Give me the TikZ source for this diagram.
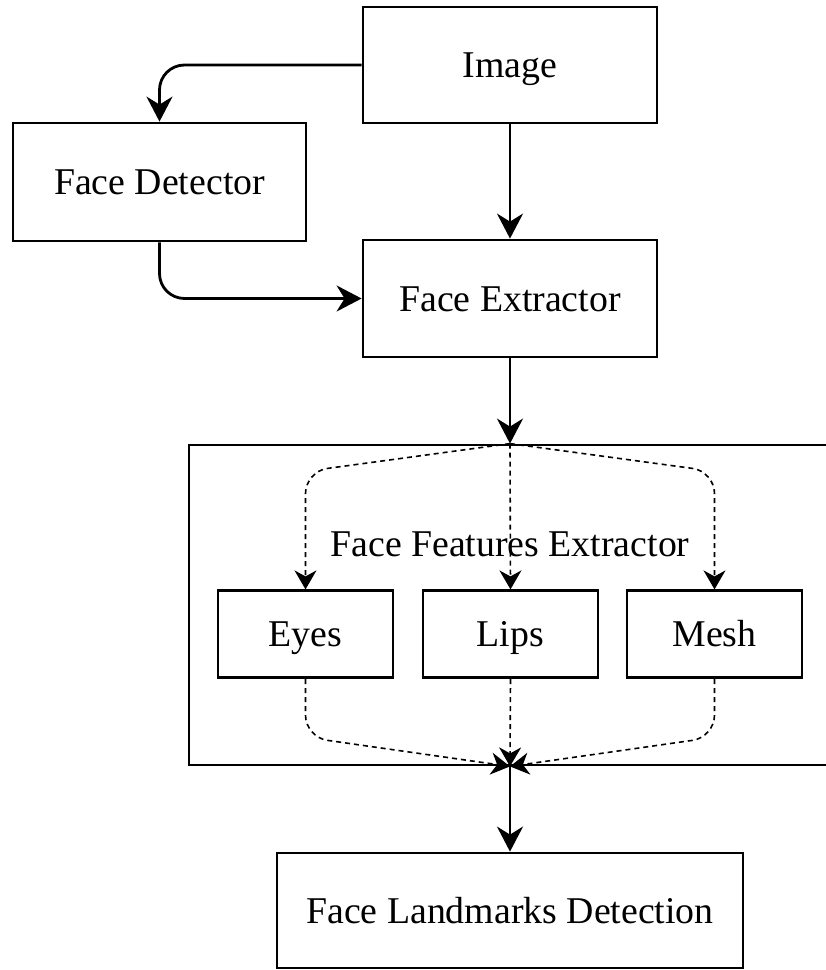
\documentclass[tikz,border=0pt]{standalone}
\usepackage{fontspec}
\setmainfont{Liberation Serif}
\usetikzlibrary{arrows.meta}
\tikzset{
  box/.style={draw, line width=2.8bp, inner sep=0pt, text height=25bp, text depth=0pt,
    font=\fontsize{37.8bp}{40bp}\selectfont, fill=white},
  lbl/.style={inner sep=0pt, text height=25bp, text depth=0pt, font=\fontsize{37.8bp}{40bp}\selectfont},
  solidarrow/.style={line width=2.8bp, -{Stealth[length=25bp,width=26bp,inset=8bp]}},
  dasharrow/.style={line width=1.6bp, dash pattern=on 5bp off 4bp,
    -{Stealth[length=19bp,width=22bp,inset=6bp]}}
}
\begin{document}
\begin{tikzpicture}[x=1bp,y=-1bp]
\useasboundingbox (0,0) rectangle (826,970);
\fill[white] (0,0) rectangle (826,970);
\clip (0,0) rectangle (826,970);

\node[box, minimum width=294bp, minimum height=116bp] (img) at (510,65) {Image};
\node[box, minimum width=293bp, minimum height=118bp] (det) at (159.5,182) {Face Detector};
\node[box, minimum width=294bp, minimum height=117bp] (ext) at (510,298.5) {Face Extractor};
\node[draw, line width=2.8bp, inner sep=0pt, minimum width=642bp, minimum height=320bp] (big) at (510,605) {};
\node[lbl] (fflabel) at (510,543.5) {Face Features Extractor};
\node[box, minimum width=175bp, minimum height=87bp] (eyes) at (305.5,634.3) {Eyes};
\node[box, minimum width=175bp, minimum height=87bp] (lips) at (510.5,634.3) {Lips};
\node[box, minimum width=175bp, minimum height=87bp] (mesh) at (714.5,634.3) {Mesh};
\node[box, minimum width=466bp, minimum height=115bp] (lm) at (510,910.5) {Face Landmarks Detection};

% solid connectors
\draw[solidarrow, rounded corners=25bp] (img.west) -| (det.north);
\draw[solidarrow] (img.south) -- (ext.north);
\draw[solidarrow, rounded corners=25bp] (det.south) |- (ext.west);
\draw[solidarrow] (ext.south) -- (big.north);
\draw[solidarrow] (big.south) -- (lm.north);

% dashed fan-out
\draw[dasharrow, rounded corners=22bp] (big.north) -- ([yshift=118bp]eyes.north) -- (eyes.north);
\draw[dasharrow] (big.north) -- (lips.north);
\draw[dasharrow, rounded corners=22bp] (big.north) -- ([yshift=118bp]mesh.north) -- (mesh.north);

% dashed fan-in
\draw[dasharrow, rounded corners=22bp] (eyes.south) -- ([yshift=-58bp]eyes.south) -- (big.south);
\draw[dasharrow] (lips.south) -- (big.south);
\draw[dasharrow, rounded corners=22bp] (mesh.south) -- ([yshift=-58bp]mesh.south) -- (big.south);
\end{tikzpicture}
\end{document}
